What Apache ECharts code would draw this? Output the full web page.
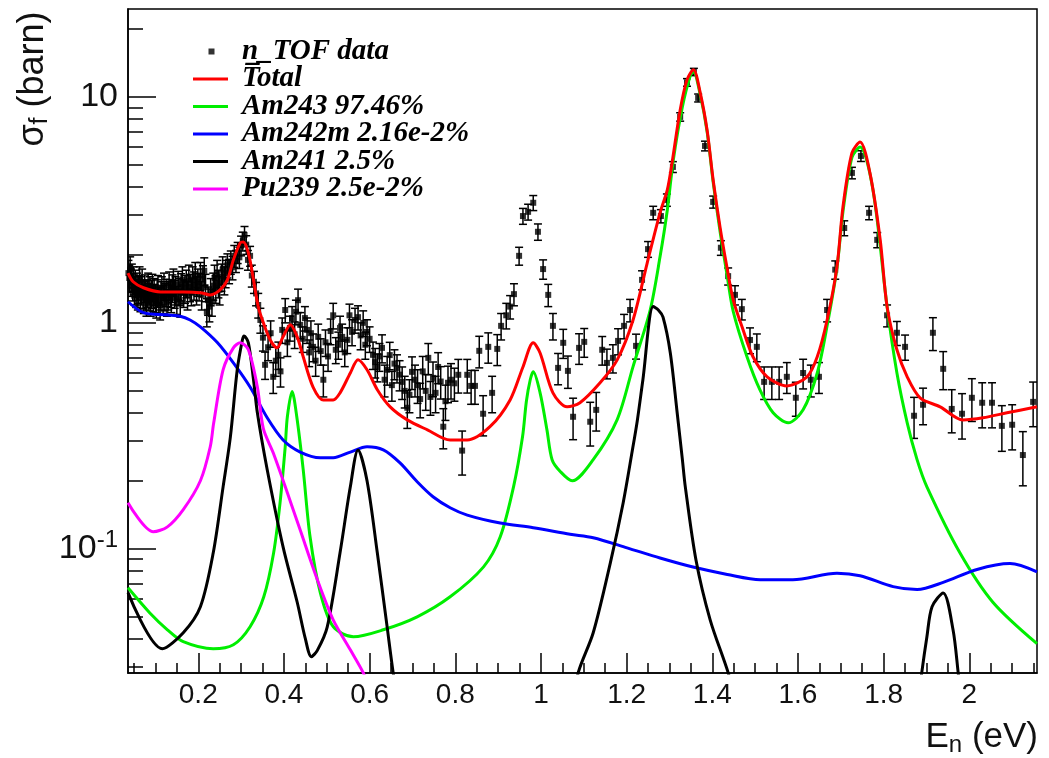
<!DOCTYPE html>
<html>
<head>
<meta charset="utf-8">
<script src="https://cdn.jsdelivr.net/npm/echarts@6/dist/echarts.min.js"></script>
<style>
  html, body { margin: 0; padding: 0; background: #ffffff; }
  #chart { width: 1049px; height: 758px; }
</style>
</head>
<body>
<div id="chart"></div>
<script>
// ---- axis ranges and tick positions ----
const X_MIN = 0.036, X_MAX = 2.158;
const Y_MIN = 0.0282, Y_MAX = 24.5;
const xMajorTicks = [0.2, 0.4, 0.6, 0.8, 1, 1.2, 1.4, 1.6, 1.8, 2];
const xMinorTicks = [0.05, 0.1, 0.15, 0.25, 0.3, 0.35, 0.45, 0.5, 0.55, 0.65, 0.7, 0.75,
  0.85, 0.9, 0.95, 1.05, 1.1, 1.15, 1.25, 1.3, 1.35, 1.45, 1.5, 1.55, 1.65, 1.7, 1.75,
  1.85, 1.9, 1.95, 2.05, 2.1, 2.15];
const yMinorTicks = [0.03, 0.04, 0.05, 0.06, 0.07, 0.08, 0.09, 0.2, 0.3, 0.4, 0.5, 0.6,
  0.7, 0.8, 0.9, 2, 3, 4, 5, 6, 7, 8, 9, 20];

// ---- n_TOF measured fission cross section rows: [energy (eV), sigma (barn), error (barn)] ----
const tofLow = [
  [0.037,1.66,0.23],[0.039,1.58,0.22],[0.041,1.72,0.24],[0.043,1.52,0.21],[0.045,1.60,0.22],
  [0.047,1.45,0.20],[0.049,1.55,0.22],[0.051,1.40,0.20],[0.053,1.50,0.21],[0.055,1.36,0.19],
  [0.057,1.46,0.20],[0.059,1.33,0.19],[0.061,1.42,0.20],[0.063,1.55,0.22],[0.065,1.30,0.18],
  [0.067,1.40,0.20],[0.069,1.52,0.21],[0.071,1.35,0.19],[0.073,1.28,0.18],[0.075,1.43,0.20],
  [0.077,1.33,0.19],[0.079,1.25,0.18],[0.081,1.36,0.19],[0.083,1.46,0.20],[0.085,1.31,0.18],
  [0.087,1.40,0.20],[0.089,1.24,0.17],[0.091,1.35,0.19],[0.093,1.44,0.20],[0.095,1.30,0.18],
  [0.097,1.38,0.19],[0.100,1.29,0.18],[0.102,1.22,0.17],[0.104,1.36,0.19],[0.106,1.42,0.20],
  [0.108,1.26,0.18],[0.111,1.20,0.17],[0.113,1.33,0.19],[0.115,1.40,0.20],[0.118,1.28,0.18],
  [0.120,1.46,0.20],[0.122,1.31,0.18],[0.125,1.37,0.19],[0.127,1.24,0.17],[0.130,1.33,0.19],
  [0.132,1.47,0.21],[0.135,1.36,0.19],[0.137,1.29,0.18],[0.140,1.43,0.20],[0.142,1.52,0.21],
  [0.145,1.35,0.19],[0.147,1.40,0.20],[0.150,1.27,0.18],[0.153,1.48,0.21],[0.155,1.38,0.19],
  [0.158,1.23,0.17],[0.160,1.45,0.20],[0.163,1.55,0.22],[0.166,1.36,0.19],[0.169,1.42,0.20],
  [0.172,1.50,0.21],[0.175,1.33,0.19],[0.178,1.58,0.22],[0.181,1.44,0.20],[0.184,1.38,0.19],
  [0.187,1.55,0.22],[0.190,1.47,0.21],[0.193,1.62,0.23],[0.196,1.40,0.20],[0.199,1.52,0.21],
  [0.202,1.45,0.20],[0.205,1.62,0.23],[0.208,1.33,0.19],[0.211,1.57,0.22],[0.214,1.70,0.24],
  [0.217,1.44,0.20],[0.220,1.12,0.16],[0.223,1.26,0.18],[0.226,1.18,0.17],[0.229,1.38,0.19],
  [0.232,1.24,0.17],[0.235,1.46,0.20],[0.238,1.58,0.22],[0.241,1.42,0.20],[0.244,1.66,0.23],
  [0.247,1.50,0.21],[0.250,1.40,0.20],[0.254,1.60,0.22],[0.257,1.72,0.24],[0.261,1.55,0.22],
  [0.264,1.66,0.23],[0.268,1.80,0.22],[0.272,1.70,0.21],[0.276,1.86,0.22],[0.280,1.76,0.21],
  [0.284,1.98,0.22],[0.288,1.88,0.21],[0.292,2.05,0.22],[0.296,1.95,0.21],[0.300,2.20,0.22],
  [0.304,2.30,0.22],[0.308,2.45,0.22],[0.312,2.22,0.21],[0.316,1.90,0.19],[0.321,1.98,0.20],
  [0.325,1.62,0.18],[0.330,1.52,0.17],[0.335,1.35,0.16],[0.340,1.20,0.15],[0.345,1.03,0.13]
];
const tofMid = [
  [0.351,0.86,0.11],[0.356,0.652,0.09],[0.363,0.78,0.10],[0.369,0.90,0.12],[0.375,0.577,0.09],
  [0.381,0.68,0.10],[0.387,0.722,0.10],[0.392,0.61,0.09],[0.396,0.931,0.12],[0.403,1.14,0.14],
  [0.408,0.82,0.11],[0.414,0.95,0.12],[0.419,1.05,0.13],[0.425,0.89,0.12],[0.428,1.12,0.14],
  [0.433,1.26,0.15],[0.438,0.98,0.13],[0.444,0.85,0.11],[0.449,1.05,0.13],[0.454,0.931,0.12],
  [0.459,0.74,0.10],[0.463,0.90,0.12],[0.468,0.783,0.11],[0.474,0.68,0.10],[0.480,0.867,0.12],
  [0.486,0.75,0.10],[0.492,0.56,0.09],[0.497,0.82,0.11],[0.503,0.71,0.10],[0.509,0.92,0.12],
  [0.515,1.08,0.14],[0.521,0.76,0.10],[0.527,0.80,0.11],[0.531,0.95,0.12],[0.536,0.867,0.12],
  [0.542,0.74,0.10],[0.548,0.841,0.11],[0.553,1.08,0.13],[0.559,0.912,0.12],[0.566,1.03,0.13],
  [0.573,1.06,0.13],[0.579,0.88,0.12],[0.585,1.0,0.13],[0.590,0.80,0.11],[0.594,0.912,0.12],
  [0.600,0.85,0.11],[0.608,0.722,0.10],[0.613,0.67,0.10],[0.618,0.638,0.09],[0.623,0.71,0.10],
  [0.629,0.775,0.11],[0.635,0.56,0.09],[0.641,0.62,0.09],[0.647,0.72,0.10],[0.652,0.53,0.08],
  [0.658,0.66,0.10],[0.664,0.632,0.09],[0.670,0.59,0.09],[0.676,0.548,0.09],[0.682,0.50,0.08],
  [0.688,0.421,0.08],[0.693,0.48,0.08],[0.699,0.607,0.10],[0.706,0.56,0.09],[0.712,0.53,0.09],
  [0.718,0.46,0.08],[0.724,0.61,0.10],[0.731,0.50,0.09],[0.737,0.70,0.11],[0.742,0.47,0.08],
  [0.748,0.571,0.10],[0.754,0.49,0.09],[0.760,0.638,0.10],[0.766,0.55,0.09],[0.772,0.347,0.07],
  [0.777,0.45,0.08],[0.783,0.543,0.10]
];
const tofHigh = [
  [0.790,0.56,0.10],[0.798,0.54,0.09],[0.807,0.589,0.10],[0.816,0.272,0.06],[0.828,0.589,0.10],
  [0.837,0.526,0.09],[0.846,0.526,0.09],[0.856,0.752,0.12],[0.865,0.396,0.08],[0.877,0.783,0.12],
  [0.886,0.49,0.09],[0.898,0.767,0.12],[0.907,0.97,0.13],[0.919,1.08,0.14],[0.928,1.18,0.14],
  [0.937,1.34,0.15],[0.949,1.98,0.18],[0.958,2.97,0.24],[0.970,3.10,0.25],[0.982,3.40,0.26],
  [0.993,2.53,0.21],[1.005,1.73,0.17],[1.017,1.33,0.15],[1.028,0.97,0.13],[1.040,0.632,0.10],
  [1.052,0.816,0.12],[1.063,0.613,0.10],[1.075,0.384,0.08],[1.089,0.775,0.12],[1.101,0.824,0.12],
  [1.115,0.365,0.08],[1.129,0.412,0.08],[1.143,0.76,0.11],[1.154,0.665,0.10],[1.168,0.70,0.10],
  [1.180,0.832,0.11],[1.194,0.97,0.12],[1.208,1.14,0.13],[1.222,0.791,0.10],[1.236,1.55,0.15],
  [1.250,2.12,0.17],[1.262,3.07,0.21],[1.280,2.97,0.20],[1.294,3.50,0.22],[1.308,4.90,0.27],
  [1.325,8.16,0.35],[1.341,11.6,0.45],[1.357,12.9,0.48],[1.367,9.9,0.40],[1.383,6.07,0.30],
  [1.402,3.43,0.21],[1.420,2.15,0.16],[1.437,1.61,0.14],[1.453,1.33,0.13],[1.469,1.15,0.12],
  [1.488,0.84,0.11],[1.504,0.783,0.11],[1.521,0.548,0.09],[1.539,0.548,0.09],[1.556,0.548,0.09],
  [1.574,0.577,0.09],[1.595,0.466,0.08],[1.612,0.60,0.09],[1.630,0.56,0.09],[1.649,0.577,0.09],
  [1.668,1.14,0.13],[1.687,1.72,0.16],[1.708,2.63,0.20],[1.726,4.61,0.27],[1.747,5.48,0.30],
  [1.766,3.07,0.21],[1.785,2.33,0.18],[1.808,1.08,0.12],[1.831,0.904,0.11],[1.850,0.783,0.10],
  [1.871,0.388,0.08],[1.892,0.434,0.08],[1.915,0.904,0.15],[1.939,0.626,0.12],[1.959,0.416,0.09],
  [1.983,0.396,0.09],[2.006,0.466,0.10],[2.030,0.443,0.10],[2.053,0.443,0.10],[2.076,0.35,0.08],
  [2.100,0.354,0.08],[2.125,0.26,0.07],[2.149,0.447,0.10]
];

// ---- fitted contributions: [energy (eV), sigma (barn)] ----
const totalFit = [
  [0.036,1.66],[0.048,1.52],[0.072,1.43],[0.112,1.37],[0.166,1.37],[0.205,1.36],[0.228,1.33],
  [0.251,1.40],[0.268,1.55],[0.282,1.90],[0.298,2.26],[0.305,2.28],[0.317,2.04],[0.329,1.55],
  [0.340,1.18],[0.352,1.0],[0.368,0.84],[0.384,0.775],[0.398,0.867],[0.415,0.98],[0.431,0.867],
  [0.445,0.708],[0.468,0.52],[0.492,0.456],[0.515,0.456],[0.531,0.49],[0.555,0.60],[0.573,0.686],
  [0.594,0.62],[0.618,0.506],[0.648,0.425],[0.688,0.372],[0.735,0.336],[0.788,0.303],[0.828,0.303],
  [0.881,0.347],[0.928,0.456],[0.958,0.638],[0.982,0.816],[0.998,0.736],[1.028,0.49],[1.061,0.425],
  [1.091,0.443],[1.138,0.543],[1.178,0.686],[1.215,1.03],[1.248,1.84],[1.278,3.07],[1.295,3.88],
  [1.306,5.1],[1.325,8.76],[1.341,11.9],[1.356,13.2],[1.372,10.4],[1.388,7.1],[1.402,4.29],
  [1.418,2.66],[1.434,1.77],[1.449,1.26],[1.472,0.93],[1.495,0.708],[1.528,0.577],[1.574,0.526],
  [1.621,0.577],[1.645,0.708],[1.668,1.03],[1.691,1.77],[1.705,3.26],[1.726,5.65],[1.745,6.31],
  [1.768,4.61],[1.792,2.33],[1.808,1.18],[1.831,0.76],[1.855,0.577],[1.885,0.466],[1.932,0.425],
  [1.985,0.372],[2.032,0.38],[2.088,0.40],[2.158,0.425]
];
const am243Fit = [
  [0.036,0.0672],[0.087,0.052],[0.128,0.0438],[0.165,0.0388],[0.235,0.0361],[0.282,0.0376],
  [0.321,0.0452],[0.353,0.0613],[0.376,0.096],[0.391,0.16],[0.403,0.283],[0.408,0.384],
  [0.419,0.497],[0.430,0.384],[0.445,0.224],[0.461,0.113],[0.485,0.0638],[0.515,0.0452],
  [0.562,0.0408],[0.632,0.0438],[0.711,0.05],[0.788,0.0613],[0.866,0.0832],[0.905,0.113],
  [0.936,0.188],[0.957,0.313],[0.966,0.45],[0.975,0.56],[0.982,0.607],[0.998,0.49],[1.014,0.336],
  [1.026,0.248],[1.045,0.22],[1.073,0.20],[1.122,0.248],[1.178,0.373],[1.215,0.64],[1.255,1.14],
  [1.278,1.96],[1.295,3.16],[1.309,5.26],[1.33,9.0],[1.349,12.5],[1.356,12.9],[1.372,10.2],
  [1.388,7.0],[1.402,4.2],[1.418,2.55],[1.434,1.65],[1.449,1.12],[1.481,0.708],[1.511,0.506],
  [1.542,0.40],[1.577,0.361],[1.612,0.412],[1.645,0.60],[1.668,0.97],[1.691,1.75],[1.705,3.1],
  [1.726,5.4],[1.745,6.0],[1.775,3.88],[1.808,1.18],[1.831,0.60],[1.855,0.361],[1.878,0.248],
  [1.901,0.188],[1.978,0.096],[2.055,0.058],[2.158,0.038]
];
const am242mFit = [
  [0.036,1.24],[0.072,1.11],[0.128,1.085],[0.158,1.07],[0.181,1.03],[0.205,0.96],[0.244,0.82],
  [0.282,0.665],[0.321,0.52],[0.361,0.38],[0.398,0.303],[0.438,0.268],[0.485,0.253],[0.515,0.253],
  [0.555,0.268],[0.594,0.283],[0.632,0.274],[0.671,0.24],[0.711,0.198],[0.748,0.17],[0.788,0.152],
  [0.828,0.141],[0.905,0.130],[0.982,0.124],[1.068,0.116],[1.122,0.112],[1.201,0.101],
  [1.278,0.091],[1.355,0.083],[1.435,0.077],[1.512,0.073],[1.588,0.073],[1.691,0.078],
  [1.745,0.076],[1.822,0.068],[1.878,0.066],[1.939,0.071],[2.018,0.081],[2.095,0.086],[2.158,0.079]
];
const am241Fit = [
  [0.036,0.064],[0.116,0.0361],[0.165,0.0425],[0.205,0.0554],[0.235,0.096],[0.258,0.188],
  [0.275,0.313],[0.291,0.62],[0.303,0.84],[0.307,0.875],[0.317,0.816],[0.329,0.56],[0.338,0.40],
  [0.361,0.224],[0.398,0.102],[0.431,0.058],[0.450,0.040],[0.464,0.0333],[0.478,0.0355],
  [0.501,0.045],[0.531,0.096],[0.555,0.188],[0.573,0.274],[0.594,0.20],[0.618,0.096],[0.641,0.045],
  [0.655,0.0283],[0.665,0.022],
  [0.9,'-'],
  [1.080,0.022],[1.087,0.0283],[1.122,0.0425],[1.162,0.0867],[1.192,0.16],[1.213,0.27],
  [1.225,0.37],[1.238,0.56],[1.262,1.18],[1.274,1.14],[1.285,1.06],[1.302,0.736],[1.318,0.40],
  [1.330,0.25],[1.337,0.188],[1.362,0.089],[1.395,0.0485],[1.437,0.0283],[1.445,0.024],
  [1.7,'-'],
  [1.885,0.024],[1.889,0.0283],[1.901,0.0408],[1.913,0.0554],[1.939,0.0638],[1.962,0.0438],
  [1.974,0.0283],[1.978,0.024]
];
const pu239Fit = [
  [0.036,0.16],[0.095,0.119],[0.128,0.125],[0.165,0.149],[0.205,0.20],[0.228,0.283],[0.236,0.36],
  [0.258,0.62],[0.282,0.775],[0.298,0.816],[0.317,0.76],[0.338,0.52],[0.352,0.34],[0.375,0.266],
  [0.408,0.177],[0.438,0.121],[0.478,0.073],[0.515,0.0485],[0.555,0.0357],[0.585,0.0283],[0.600,0.024]
];

const legendNames = ['n_TOF data', 'T\u0305otal', 'Am243 97.46%', 'Am242m 2.16e-2%', 'Am241 2.5%', 'Pu239 2.5e-2%'];

const AXIS_FONT = 'Liberation Sans, Arial, Helvetica, sans-serif';
const LEGEND_FONT = 'Liberation Serif, Times New Roman, serif';

const tofRows = tofLow.concat(tofMid, tofHigh);

const chart = echarts.init(document.getElementById('chart'), null, { renderer: 'canvas' });

function fitSeries(name, data, color, z) {
  return {
    name: name, type: 'line', data: data, xAxisIndex: 0, yAxisIndex: 0,
    showSymbol: false, symbol: 'none', smooth: 0.3, connectNulls: false, clip: true,
    lineStyle: { color: color, width: 3 }, itemStyle: { color: color },
    z: z, silent: true, animation: false
  };
}

const lineIcon = 'path://M0,0M44,27.5M0,12.25h35v3h-35z';
const dotIcon = 'path://M0,0M44,27.5M15.5,10.75h6v6h-6z';
const tickStyle = { color: '#000', width: 1.5 };

const option = {
  animation: false,
  backgroundColor: '#ffffff',
  grid: { left: 128, top: 9, right: 12, bottom: 85, show: true, borderColor: '#000', borderWidth: 1.5, backgroundColor: 'transparent' },
  legend: {
    orient: 'vertical', left: 193, top: 37, padding: 0,
    itemWidth: 44, itemHeight: 27.5, itemGap: -1.5,
    selectedMode: false,
    itemStyle: { borderWidth: 0 },
    textStyle: { fontFamily: LEGEND_FONT, fontStyle: 'italic', fontWeight: 'bold', fontSize: 29, color: '#000', lineHeight: 27.5 },
    data: [
      { name: legendNames[0], icon: dotIcon },
      { name: legendNames[1], icon: lineIcon },
      { name: legendNames[2], icon: lineIcon },
      { name: legendNames[3], icon: lineIcon },
      { name: legendNames[4], icon: lineIcon },
      { name: legendNames[5], icon: lineIcon }
    ]
  },
  xAxis: [
    {
      type: 'value', min: X_MIN, max: X_MAX, position: 'bottom',
      axisLine: { show: true, onZero: false, lineStyle: tickStyle },
      axisTick: { show: true, inside: true, length: 20, customValues: xMajorTicks, lineStyle: tickStyle },
      axisLabel: { show: true, customValues: xMajorTicks, margin: 8, fontFamily: AXIS_FONT, fontSize: 28, color: '#111' },
      splitLine: { show: false }
    },
    {
      type: 'value', min: X_MIN, max: X_MAX, position: 'bottom',
      axisLine: { show: false, onZero: false },
      axisTick: { show: true, inside: true, length: 10, customValues: xMinorTicks, lineStyle: tickStyle },
      axisLabel: { show: false },
      splitLine: { show: false }
    }
  ],
  yAxis: [
    {
      type: 'log', logBase: 10, min: Y_MIN, max: Y_MAX, position: 'left',
      axisLine: { show: true, onZero: false, lineStyle: tickStyle },
      axisTick: { show: true, inside: true, length: 28, lineStyle: tickStyle },
      axisLabel: {
        show: true, showMinLabel: false, showMaxLabel: false, margin: 10,
        fontFamily: AXIS_FONT, fontSize: 34, color: '#111',
        formatter: function (v) {
          const p = Math.round(Math.log10(v));
          if (p === 0) return '1';
          if (p === 1) return '10';
          return '{b|10}{s|' + p + '}';
        },
        rich: {
          b: { fontFamily: AXIS_FONT, fontSize: 34, color: '#111', lineHeight: 40 },
          s: { fontFamily: AXIS_FONT, fontSize: 24, color: '#111', lineHeight: 22, verticalAlign: 'top' }
        }
      },
      splitLine: { show: false }, minorTick: { show: false }
    },
    {
      type: 'value', min: Math.log10(Y_MIN), max: Math.log10(Y_MAX), position: 'left',
      axisLine: { show: false, onZero: false },
      axisTick: { show: true, inside: true, length: 15, customValues: yMinorTicks.map(function (t) { return Math.log10(t); }), lineStyle: tickStyle },
      axisLabel: { show: false },
      splitLine: { show: false }
    }
  ],
  graphic: [
    {
      type: 'text', x: 1038, y: 737, z: 100,
      style: {
        text: '{a|E}{s|n}{a| (eV)}', textAlign: 'right', textVerticalAlign: 'middle',
        rich: {
          a: { fontFamily: AXIS_FONT, fontSize: 35, fill: '#111', lineHeight: 40 },
          s: { fontFamily: AXIS_FONT, fontSize: 24, fill: '#111', lineHeight: 24, verticalAlign: 'bottom' }
        }
      }
    },
    {
      type: 'text', x: 33, y: 79, rotation: Math.PI / 2, z: 100,
      style: {
        text: '{a|\u03c3}{s|f}{a| (barn)}', textAlign: 'center', textVerticalAlign: 'middle',
        rich: {
          a: { fontFamily: AXIS_FONT, fontSize: 36, fill: '#111', lineHeight: 40 },
          s: { fontFamily: AXIS_FONT, fontSize: 25, fill: '#111', lineHeight: 24, verticalAlign: 'bottom' }
        }
      }
    }
  ],
  series: [
    {
      name: 'tof-errors', type: 'custom', xAxisIndex: 0, yAxisIndex: 0, clip: true, silent: true, z: 2,
      data: tofRows.map(function (r) { return [r[0], r[1] - r[2], r[1] + r[2]]; }),
      encode: { x: 0, y: [1, 2] },
      renderItem: function (params, api) {
        const e = api.value(0);
        const lo = api.coord([e, api.value(1)]);
        const hi = api.coord([e, api.value(2)]);
        const cap = 4;
        const st = { stroke: '#000', lineWidth: 1.5 };
        return {
          type: 'group',
          children: [
            { type: 'line', shape: { x1: lo[0], y1: lo[1], x2: hi[0], y2: hi[1] }, style: st },
            { type: 'line', shape: { x1: lo[0] - cap, y1: lo[1], x2: lo[0] + cap, y2: lo[1] }, style: st },
            { type: 'line', shape: { x1: hi[0] - cap, y1: hi[1], x2: hi[0] + cap, y2: hi[1] }, style: st }
          ]
        };
      }
    },
    {
      name: legendNames[0], type: 'scatter', xAxisIndex: 0, yAxisIndex: 0, z: 3, silent: true,
      symbol: 'rect', symbolSize: 6, itemStyle: { color: '#000' },
      data: tofRows.map(function (r) { return [r[0], r[1]]; })
    },
    fitSeries(legendNames[2], am243Fit, '#00ee00', 4),
    fitSeries(legendNames[3], am242mFit, '#0000ff', 5),
    fitSeries(legendNames[4], am241Fit, '#000000', 6),
    fitSeries(legendNames[5], pu239Fit, '#ff00ff', 7),
    fitSeries(legendNames[1], totalFit, '#ff0000', 8)
  ]
};

chart.setOption(option);
</script>
</body>
</html>
